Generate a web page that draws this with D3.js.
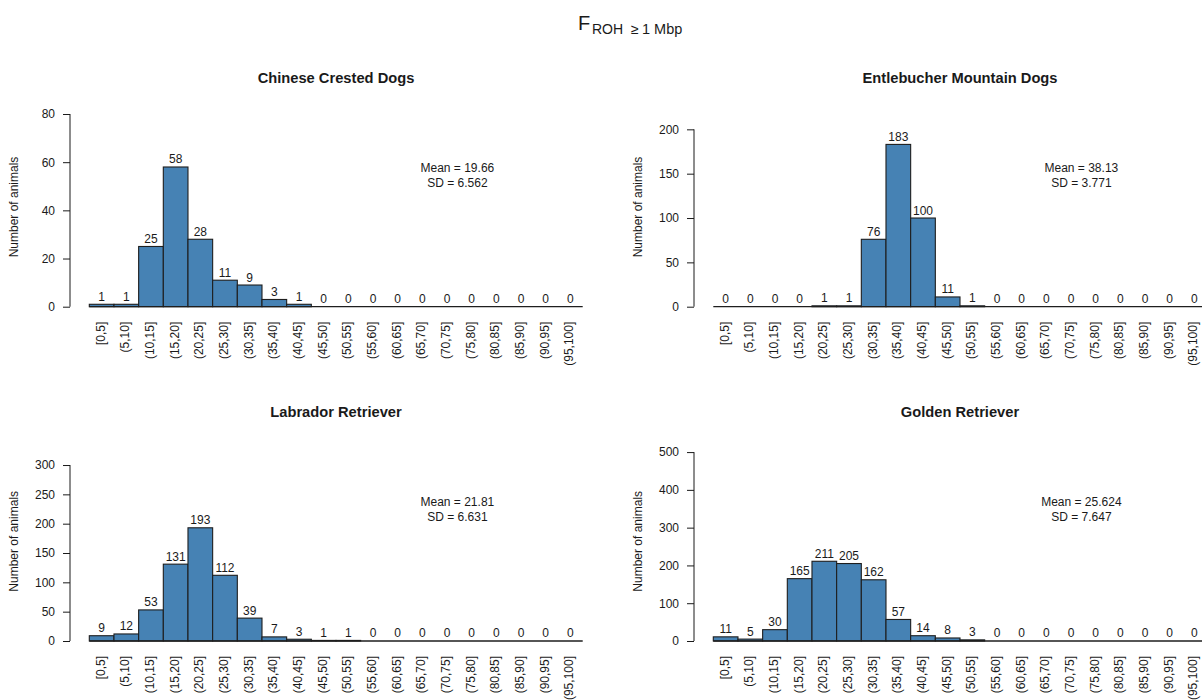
<!DOCTYPE html>
<html>
  <head>
    <meta charset="utf-8">
    <title>FROH histograms</title>
    <script type="text/javascript" src="https://d3js.org/d3.v7.min.js"></script>
    <style>
      body { margin: 0; background: #fff; }
      text { font-family: "Liberation Sans", Arial, sans-serif; fill: #1a1a1a; }
    </style>
  </head>
  <body>
    <script type="text/javascript">
    var w = 1202;
    var h = 700;

    // bin labels
    var bins = ["[0,5]", "(5,10]", "(10,15]", "(15,20]", "(20,25]", "(25,30]", "(30,35]",
                "(35,40]", "(40,45]", "(45,50]", "(50,55]", "(55,60]", "(60,65]", "(65,70]",
                "(70,75]", "(75,80]", "(80,85]", "(85,90]", "(90,95]", "(95,100]"];

    // counts per breed
    var chineseCrested = [1, 1, 25, 58, 28, 11, 9, 3, 1, 0, 0, 0, 0, 0, 0, 0, 0, 0, 0, 0];
    var entlebucher    = [0, 0, 0, 0, 1, 1, 76, 183, 100, 11, 1, 0, 0, 0, 0, 0, 0, 0, 0, 0];
    var labrador       = [9, 12, 53, 131, 193, 112, 39, 7, 3, 1, 1, 0, 0, 0, 0, 0, 0, 0, 0, 0];
    var golden         = [11, 5, 30, 165, 211, 205, 162, 57, 14, 8, 3, 0, 0, 0, 0, 0, 0, 0, 0, 0];

    var titles = ["Chinese Crested Dogs", "Entlebucher Mountain Dogs", "Labrador Retriever", "Golden Retriever"];
    var meanLabels = ["Mean = 19.66", "Mean = 38.13", "Mean = 21.81", "Mean = 25.624"];
    var sdLabels = ["SD = 6.562", "SD = 3.771", "SD = 6.631", "SD = 7.647"];
    var yTicks = [
      [0, 20, 40, 60, 80],
      [0, 50, 100, 150, 200],
      [0, 50, 100, 150, 200, 250, 300],
      [0, 100, 200, 300, 400, 500]
    ];
    var yTops = [80, 217.3, 328.5, 510];   // top of value range per panel
    var counts = [chineseCrested, entlebucher, labrador, golden];

    // layout
    var panelX = [0, 624, 0, 624];
    var panelY = [0, 0, 334.3, 334.3];
    var axisX = 70;
    var barX0 = 89.3;
    var binW = 24.67;
    var baseY = 306.7;
    var innerH = 192.7;

    var svg = d3.select("body")
                .append("svg")
                .attr("width", w)
                .attr("height", h);

    // main title F_ROH >= 1 Mbp
    var mainTitle = svg.append("text")
                       .attr("y", 29.5);
    mainTitle.append("tspan").attr("x", 578).attr("font-size", "20px").text("F");
    mainTitle.append("tspan").attr("x", 592).attr("dy", 4).attr("font-size", "14px").text("ROH");
    mainTitle.append("tspan").attr("x", 631).attr("font-size", "14px").text("\u2265");
    mainTitle.append("tspan").attr("x", 642).attr("font-size", "14.5px").text("1 Mbp");

    counts.forEach(function(data, i) {
      var g = svg.append("g")
                 .attr("transform", "translate(" + panelX[i] + "," + panelY[i] + ")");

      var xScale = d3.scaleBand()
                     .domain(bins)
                     .range([barX0, barX0 + binW * bins.length])
                     .padding(0);
      var xPos = d3.scaleLinear()
                   .domain([0, bins.length])
                   .range([barX0, barX0 + binW * bins.length]);
      var yScale = d3.scaleLinear()
                     .domain([0, yTops[i]])
                     .range([baseY, baseY - innerH]);

      // title
      g.append("text")
       .attr("x", xPos(bins.length / 2))
       .attr("y", 83)
       .attr("text-anchor", "middle")
       .attr("font-size", "14.7px")
       .attr("font-weight", "bold")
       .text(titles[i]);

      // y axis
      var ticks = yTicks[i];
      var yAxis = d3.axisLeft(yScale)
                    .tickValues(ticks)
                    .tickSize(7)
                    .tickPadding(8)
                    .tickSizeOuter(0);
      var ax = g.append("g")
                .attr("transform", "translate(" + axisX + ",0)")
                .call(yAxis);
      ax.select(".domain").remove();
      ax.append("line")
        .attr("x1", 0).attr("x2", 0)
        .attr("y1", yScale(0)).attr("y2", yScale(ticks[ticks.length - 1]))
        .attr("stroke", "#1a1a1a");
      ax.selectAll(".tick line").attr("stroke", "#1a1a1a");
      ax.selectAll(".tick text")
        .attr("font-size", "12px")
        .attr("font-family", "Liberation Sans, Arial, sans-serif")
        .attr("fill", "#1a1a1a");

      // y label
      g.append("text")
       .attr("transform", "translate(" + (axisX - 51.6) + "," + (baseY - 99.7) + ") rotate(-90)")
       .attr("text-anchor", "middle")
       .attr("font-size", "12px")
       .text("Number of animals");

      // bars
      g.selectAll("rect.bar")
       .data(data)
       .enter()
       .append("rect")
       .attr("class", "bar")
       .attr("x", function(d, j) { return xScale(bins[j]); })
       .attr("y", function(d) { return yScale(d); })
       .attr("width", xScale.bandwidth())
       .attr("height", function(d) { return yScale(0) - yScale(d); })
       .attr("fill", "#4682B4")
       .attr("stroke", "#1e1e1e")
       .attr("stroke-width", 1.1);

      // baseline (zero-height bars)
      g.append("line")
       .attr("x1", xPos(0)).attr("x2", xPos(bins.length))
       .attr("y1", yScale(0)).attr("y2", yScale(0))
       .attr("stroke", "#1e1e1e")
       .attr("stroke-width", 1.3);

      // value labels
      g.selectAll("text.val")
       .data(data)
       .enter()
       .append("text")
       .attr("class", "val")
       .attr("x", function(d, j) { return xScale(bins[j]) + xScale.bandwidth() / 2; })
       .attr("y", function(d) { return yScale(d) - 3.5; })
       .attr("text-anchor", "middle")
       .attr("font-size", "12px")
       .text(function(d) { return d; });

      // bin labels
      g.selectAll("text.bin")
       .data(bins)
       .enter()
       .append("text")
       .attr("class", "bin")
       .attr("transform", function(d) {
         return "translate(" + (xScale(d) + xScale.bandwidth() / 2) + "," + (baseY + 15) + ") rotate(-90)";
       })
       .attr("text-anchor", "end")
       .attr("dy", "0.25em")
       .attr("font-size", "12px")
       .text(function(d) { return d; });

      // mean / sd
      g.append("text")
       .attr("x", xPos(14.92))
       .attr("y", 171.5)
       .attr("text-anchor", "middle")
       .attr("font-size", "12px")
       .text(meanLabels[i]);
      g.append("text")
       .attr("x", xPos(14.92))
       .attr("y", 186.5)
       .attr("text-anchor", "middle")
       .attr("font-size", "12px")
       .text(sdLabels[i]);
    });
    </script>
  </body>
</html>
